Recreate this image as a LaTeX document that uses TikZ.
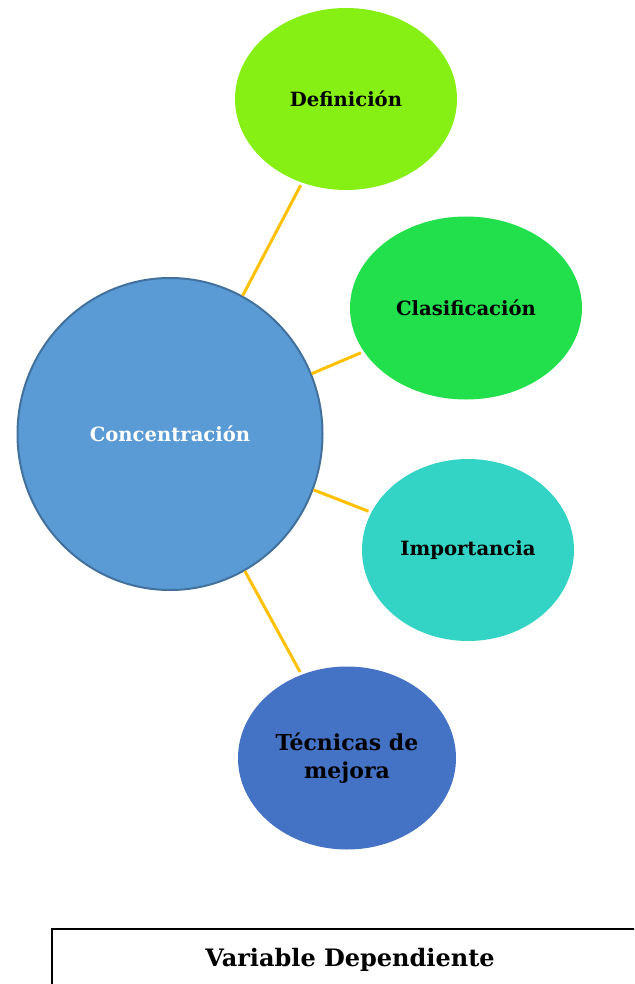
\documentclass[tikz,border=0pt]{standalone}
\usepackage{fontspec}
\setmainfont{DejaVu Serif}
\usetikzlibrary{shapes.geometric}

\definecolor{conc}{RGB}{91,155,213}
\definecolor{concb}{RGB}{65,113,156}
\definecolor{defi}{RGB}{134,239,19}
\definecolor{clas}{RGB}{34,224,76}
\definecolor{impo}{RGB}{51,211,197}
\definecolor{tecn}{RGB}{68,114,196}
\definecolor{naranja}{RGB}{255,192,0}

\tikzset{
  burbuja/.style={ellipse, inner sep=0pt, font=\bfseries\fontsize{19.6}{23}\selectfont, align=center},
  enlace/.style={naranja, line width=3pt, shorten >=3pt}
}

\begin{document}
\begin{tikzpicture}[x=1pt,y=-1pt]
\useasboundingbox (0,0) rectangle (634,984);
\clip (0,0) rectangle (634,984);

\node[burbuja, fill=conc, draw=concb, line width=2pt, text=white, minimum width=305, minimum height=312] (C) at (170,434) {Concentraci\'on};
\node[burbuja, fill=defi, minimum width=222, minimum height=182] (D) at (346,99) {Definici\'on};
\node[burbuja, fill=clas, minimum width=232, minimum height=183] (Cl) at (466,308) {Clasificaci\'on};
\node[burbuja, fill=impo, minimum width=212, minimum height=182] (I) at (468,550) {Importancia};
\node[burbuja, fill=tecn, minimum width=218, minimum height=183, font=\bfseries\fontsize{22}{28}\selectfont] (T) at (347,758) {T\'ecnicas de\\mejora};

\draw [enlace] (C) -- (D);
\draw [enlace] (C) -- (Cl);
\draw [enlace] (C) -- (I);
\draw [enlace] (C) -- (T);

\node[font=\bfseries\fontsize{24}{28}\selectfont] (V) at (350,960) {Variable Dependiente};
\draw [line width=1.2pt] (640,929) -- (52,929) -- (52,990);
\end{tikzpicture}
\end{document}
